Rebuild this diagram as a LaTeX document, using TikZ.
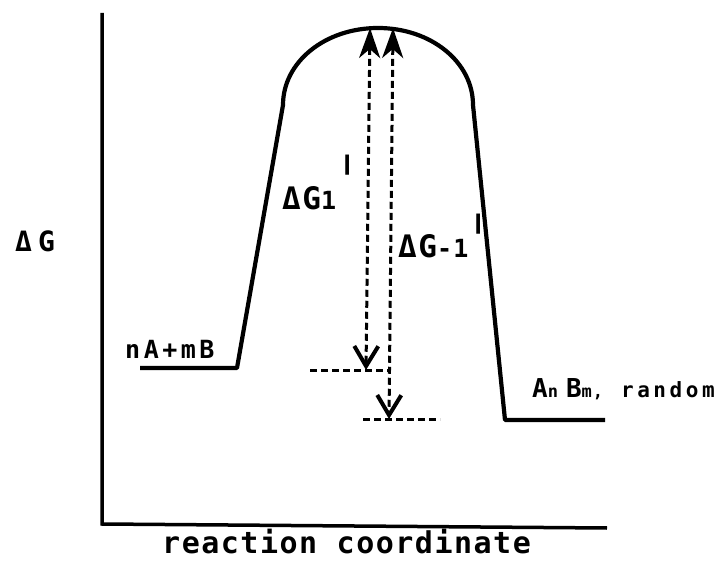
\documentclass[tikz,border=0pt]{standalone}
\usepackage{fontspec}
\usetikzlibrary{arrows.meta}
\newfontfamily\plot[LetterSpace=5]{DejaVu Sans Mono Bold}
\newcommand{\tick}[1]{\raisebox{#1}{\scalebox{1.3}[2.4]{ˈ}}}
\newcommand{\sz}[1]{\fontsize{#1}{#1}\selectfont}
\begin{document}
\begin{tikzpicture}[x=1pt,y=-1pt,
  curve/.style={line width=4.2pt, line join=round},
  axis/.style={line width=3.5pt},
  dashline/.style={line width=3pt, dash pattern=on 7pt off 4pt},
  lbl/.style={inner sep=0pt, anchor=base west, font=\plot}]
\useasboundingbox (0,0) rectangle (726,564);
% axes
\coordinate (ytop) at (102,13);
\coordinate (orig) at (102,524);
\coordinate (xend) at (607,528);
\draw[axis] (ytop) -- (orig) -- (xend);
% energy profile
\coordinate (r0) at (140,368);
\coordinate (r1) at (237,368);
\coordinate (b0) at (283,105);
\coordinate (top) at (378,28);
\coordinate (b1) at (473,105);
\coordinate (p0) at (505,420);
\coordinate (p1) at (605,420);
\draw[curve] (r0) -- (r1) -- (b0) .. controls (283,62) and (325,28) .. (top)
  .. controls (431,28) and (473,62) .. (b1) -- (p0) -- (p1);
% dashed arrows
\coordinate (a1t) at (370,28);
\coordinate (a1b) at (366,370);
\coordinate (a2t) at (393,28);
\coordinate (a2b) at (389,419);
\draw[dashline, arrows={Stealth[length=30pt,width=21pt,inset=9pt]-Straight Barb[length=20pt,width=24pt,line width=4pt]}] (a1t) -- (a1b);
\draw[dashline, arrows={Stealth[length=30pt,width=21pt,inset=9pt]-Straight Barb[length=20pt,width=24pt,line width=4pt]}] (a2t) -- (a2b);
\coordinate (h1a) at (310,370);
\coordinate (h1b) at (391,370);
\coordinate (h2a) at (363,419);
\coordinate (h2b) at (440,419);
\draw[dashline] (h1a) -- (h1b);
\draw[dashline] (h2a) -- (h2b);
% labels
\node[lbl] (dg) at (15,252) {\sz{28}Δ\hspace{6pt}G};
\node[lbl] (dg1) at (282,210) {\sz{31}ΔG{\sz{25}1}\hspace{-1pt}\tick{-2pt}};
\node[lbl] (dgm1) at (398,258) {\sz{31}ΔG{\sz{25}-1}\hspace{-2pt}\tick{-13pt}};
\node[lbl] (react) at (125,358) {\sz{25}\addfontfeature{LetterSpace=14}nA+mB};
\node[lbl] (prod) at (532,397) {\sz{26}A{\sz{17}n}\hspace{8pt}B{\sz{17}m,}\hspace{18pt}{\sz{21}\addfontfeature{LetterSpace=17}random}};
\node[lbl] (xlab) at (162,553) {\sz{30}reaction coordinate};
\end{tikzpicture}
\end{document}
